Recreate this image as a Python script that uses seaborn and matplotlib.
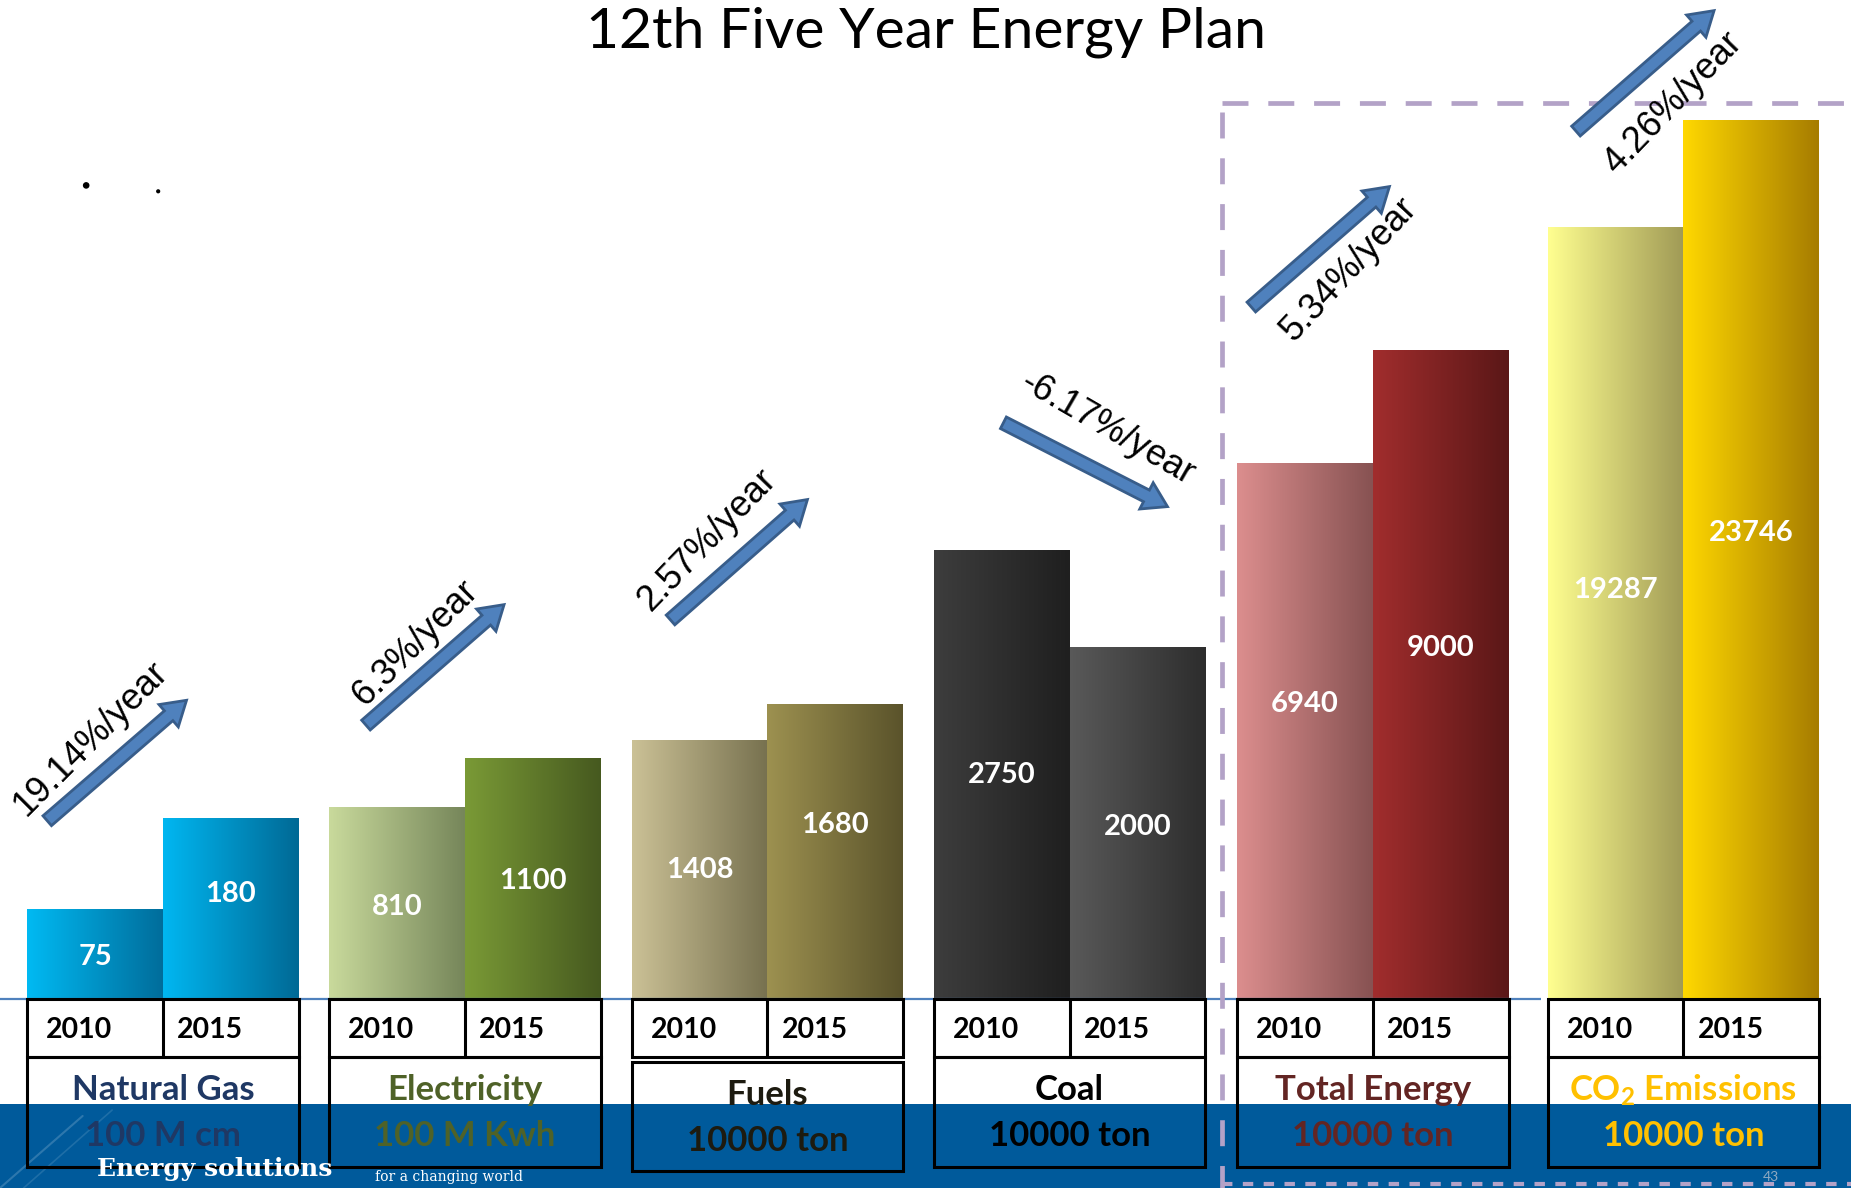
import numpy as np
import pandas as pd
import matplotlib
matplotlib.use("Agg")
import matplotlib.pyplot as plt
import seaborn as sns
from matplotlib.colors import LinearSegmentedColormap
from matplotlib.patches import Rectangle, FancyArrow

# ---- data -------------------------------------------------------------
categories = ["Natural Gas", "Electricity", "Fuels", "Coal",
              "Total Energy", "CO$_2$ Emissions"]
units = ["100 M cm", "100 M Kwh", "10000 ton", "10000 ton",
         "10000 ton", "10000 ton"]
years = ["2010", "2015"]
values_2010 = [75, 810, 1408, 2750, 6940, 19287]
values_2015 = [180, 1100, 1680, 2000, 9000, 23746]
growth_labels = ["19.14%/year", "6.3%/year", "2.57%/year",
                 "-6.17%/year", "5.34%/year", "4.26%/year"]

# ---- layout (canvas units: 1568 x 1006, y downward) -------------------
W, H = 1568, 1006
baseline = 846
band_top = 935
group_left = [23, 279, 535, 791, 1048, 1311]
group_width = 230
# each panel has its own truncated value axis
axis_floor = [-29, -343, -514, -726, -2802, -13115]
axis_ceiling = [1125, 5641, 6909, 7012, 15352, 28799]
# value label position, as a share of the bar measured from its top
label_frac = [(0.53, 0.42), (0.52, 0.51), (0.50, 0.41),
              (0.50, 0.51), (0.45, 0.46), (0.47, 0.47)]

gradients = [
    [("#00BAF3", "#006D9B"), ("#00B7F1", "#006995")],
    [("#C9DA9C", "#76865A"), ("#7A9A36", "#46591F")],
    [("#CBC196", "#77714F"), ("#9D9150", "#5A532B")],
    [("#3D3D3D", "#1F1F1F"), ("#595959", "#2D2D2D")],
    [("#DC8E8E", "#875252"), ("#A12D2D", "#5A1717")],
    [("#FFFF90", "#A09A56"), ("#FFD800", "#A67C00")],
]
name_colors = ["#1F3864", "#4F6228", "#1D1B10", "#000000", "#632523", "#FFC000"]

arrow_tail = [(40, 695), (310, 614), (568, 525), (850, 358), (1060, 260), (1335, 111)]
arrow_tip = [(158, 593), (427, 512), (684, 423), (989, 429), (1177, 158), (1452, 9)]
growth_pos = [(77, 626, 45), (352, 545, 45), (599, 457, 46),
              (938, 363, -30), (1143, 228, 47), (1417, 87, 46)]

band_color = "#005A9B"
arrow_face, arrow_edge = "#4F81BD", "#385D8A"
frame_color = "#B3A2C7"

sns.set_theme(style="white")
plt.rcParams["font.family"] = ["Lato", "DejaVu Sans"]
plt.rcParams["mathtext.default"] = "regular"

fig = plt.figure(figsize=(18.51, 11.88), dpi=100)
fig.patch.set_facecolor("white")

# ---- bars: one panel per indicator ------------------------------------
for i in range(len(categories)):
    L = group_left[i]
    ax = fig.add_axes([L / W, 1 - baseline / H, group_width / W, baseline / H], zorder=1)
    df = pd.DataFrame({"year": years, "value": [values_2010[i], values_2015[i]]})
    sns.barplot(data=df, x="year", y="value", order=years, width=1.0,
                color="0.5", saturation=1, linewidth=0, ax=ax)
    floor, ceil = axis_floor[i], axis_ceiling[i]
    bars = list(ax.patches)
    for j, p in enumerate(bars):
        top = p.get_y() + p.get_height()
        p.set_y(floor)
        p.set_height(top - floor)
        x0, w = p.get_x(), p.get_width()
        cmap = LinearSegmentedColormap.from_list(f"g{i}{j}", gradients[i][j])
        im = ax.imshow(np.linspace(0, 1, 256)[None, :], cmap=cmap, aspect="auto",
                       extent=[x0, x0 + w, floor, top], interpolation="bilinear",
                       zorder=p.get_zorder() + 0.1)
        im.set_clip_path(p)
        v = top
        ly = v - label_frac[i][j] * (v - floor)
        ax.text(x0 + w / 2, ly, f"{int(round(v))}", color="white", fontsize=21,
                fontweight="bold", ha="center", va="center", zorder=5)
    ax.set_xlim(-0.5, 1.5)
    ax.set_ylim(floor, ceil)
    ax.axis("off")

# ---- overlay: tables, arrows, titles ---------------------------------
ov = fig.add_axes([0, 0, 1, 1], zorder=5)
ov.set_xlim(0, W)
ov.set_ylim(H, 0)
ov.axis("off")

ov.plot([0, 1305], [baseline, baseline], color="#4F81BD", lw=1.6, zorder=1,
        solid_capstyle="butt")

ov.add_patch(Rectangle((0, band_top), W, H - band_top, facecolor=band_color,
                       edgecolor="none", zorder=3))

for i in range(len(categories)):
    L = group_left[i]
    mid = L + group_width / 2
    shift = 4 if i == 2 else 0
    ov.add_patch(Rectangle((L, baseline), group_width, band_top - baseline,
                           facecolor="white", edgecolor="none", zorder=2))
    ov.add_patch(Rectangle((L, baseline), group_width, 49, fill=False,
                           edgecolor="black", lw=2.2, zorder=4))
    ov.plot([mid, mid], [baseline, baseline + 49], color="black", lw=2.2, zorder=4)
    ov.add_patch(Rectangle((L, baseline + 49 + shift), group_width, 93, fill=False,
                           edgecolor="black", lw=2.2, zorder=4))
    ov.text(L + 44, 872, years[0], fontsize=20.5, fontweight="bold", color="black",
            ha="center", va="center", zorder=6)
    ov.text(L + 155, 872, years[1], fontsize=20.5, fontweight="bold", color="black",
            ha="center", va="center", zorder=6)
    ov.text(mid, 923 + shift, categories[i], fontsize=25, fontweight="bold",
            color=name_colors[i], ha="center", va="center", zorder=6)
    ov.text(mid, 962 + shift, units[i], fontsize=25, fontweight="bold",
            color=name_colors[i], ha="center", va="center", zorder=6)

for (tx, ty), (hx, hy), (gx, gy, rot), lab in zip(arrow_tail, arrow_tip,
                                                  growth_pos, growth_labels):
    ov.add_patch(FancyArrow(tx, ty, hx - tx, hy - ty, width=11, head_width=25,
                            head_length=20, length_includes_head=True,
                            facecolor=arrow_face, edgecolor=arrow_edge, lw=2,
                            zorder=7))
    ov.text(gx, gy, lab, fontsize=26, family=["Liberation Sans", "DejaVu Sans"],
            rotation=rot, rotation_mode="anchor", ha="center", va="center",
            color="black", zorder=8)

# dashed frame around the aggregate indicators
ov.plot([1035, W + 10], [87, 87], color=frame_color, lw=3.4,
        linestyle=(0, (5.5, 4.2)), zorder=5)
ov.plot([1035, 1035], [95, H], color=frame_color, lw=3.4,
        linestyle=(0, (5.5, 4.2)), zorder=5)
ov.plot([1035, W], [1003, 1003], color=frame_color, lw=3.0,
        linestyle=(0, (2.5, 2.5)), zorder=5)

ov.text(784, 27, "12th Five Year Energy Plan", fontsize=41, color="black",
        ha="center", va="center", zorder=8)
ov.scatter([73, 134], [157, 162], s=[14, 4], color="black", zorder=8)

ov.plot([0, 70], [1006, 945], color="white", alpha=0.18, lw=1.5, zorder=3.5)
ov.plot([20, 95], [1006, 940], color="white", alpha=0.12, lw=1.2, zorder=3.5)
ov.text(82, 990, "Energy solutions", fontsize=18, fontweight="bold",
        family=["DejaVu Serif"], color="white", ha="left", va="center", zorder=9)
ov.text(318, 1003, "for a changing world", fontsize=10,
        family=["DejaVu Serif"], color="white", ha="left", va="bottom", zorder=9)
ov.text(1500, 1002, "43", fontsize=10, color="#8EA9C1", ha="center", va="bottom",
        zorder=9)

fig.savefig("out.png", dpi=100, facecolor="white")
